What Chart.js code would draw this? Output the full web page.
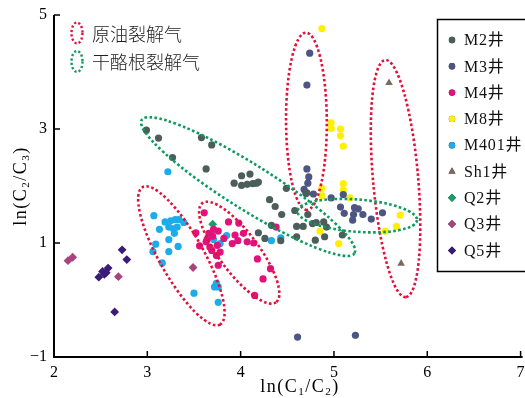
<!DOCTYPE html>
<html>
<head>
<meta charset="utf-8">
<script src="https://cdn.jsdelivr.net/npm/chart.js@4.4.0/dist/chart.umd.min.js"></script>
<style>
  html, body { margin: 0; padding: 0; background: #fff; }
  #wrap { width: 525px; height: 398px; }
</style>
</head>
<body>
<div id="wrap"><canvas id="chart"></canvas></div>
<script>
// ===== DATA : [ln(C1/C2), ln(C2/C3)] =====
const m2 = [[2.99,2.98],[3.12,2.84],[3.58,2.85],[3.69,2.72],[3.27,2.50],[3.63,2.30],[3.93,2.05],[4.01,2.18],
  [4.10,2.21],[4.01,2.01],[4.07,2.03],[4.13,2.04],[4.17,2.05],[4.19,2.07],[4.49,1.96],[4.31,1.76],[4.37,1.64],
  [4.44,1.50],[4.58,1.57],[4.71,1.88],[4.33,1.31],[4.19,1.18],[4.26,1.08],[4.43,1.04],[4.60,1.29],[4.67,1.29],
  [4.77,1.34],[4.81,1.36],[4.89,1.37],[4.92,1.28],[4.60,1.11],[4.80,1.05],[4.90,1.11],[5.09,1.14],[4.72,1.50]];
const m3 = [[4.74,4.33],[4.71,3.77],[4.71,2.30],[4.73,2.16],[4.72,2.05],[4.68,1.94],[4.78,1.86],[4.70,1.87],
  [4.97,1.79],[5.10,1.85],[5.07,1.63],[5.11,1.52],[5.22,1.62],[5.26,1.60],[5.21,1.50],[5.31,1.50],[5.20,1.40],
  [5.40,1.42],[5.52,1.53],[4.61,-0.65],[5.23,-0.62]];
const m4 = [[3.61,1.53],[3.52,1.18],[3.56,0.95],[3.66,1.17],[3.71,1.24],[3.76,1.21],[3.87,1.37],[3.98,1.35],
  [3.94,1.14],[4.03,1.17],[3.97,1.04],[3.91,0.99],[3.69,0.87],[3.74,0.78],[3.78,0.84],[3.76,0.61],[3.64,1.06],
  [3.82,1.08],[4.07,1.02],[4.14,1.00],[4.18,0.72],[4.32,0.55],[4.24,0.37],[4.15,0.08],[4.38,1.28],[3.75,0.96],
  [3.67,0.93],[3.70,1.12],[3.63,1.02]];
const m8 = [[4.87,4.76],[4.97,3.11],[4.97,3.01],[5.07,3.00],[5.07,2.88],[5.10,2.70],[4.87,1.96],[4.87,1.83],
  [5.10,2.04],[5.10,1.93],[5.17,1.79],[5.71,1.49],[5.67,1.29],[5.55,1.21],[4.85,1.21],[5.05,0.99]];
const m401 = [[3.22,2.25],[3.07,1.48],[3.19,1.37],[3.25,1.39],[3.30,1.41],[3.34,1.41],[3.39,1.36],[3.23,1.28],
  [3.13,1.24],[3.28,1.25],[3.32,1.28],[3.29,1.17],[3.23,1.06],[3.09,0.98],[3.06,0.85],[3.23,0.85],[3.33,0.94],
  [3.16,0.65],[3.50,0.12],[3.71,1.06],[3.78,0.99],[3.85,1.13],[3.72,0.23],[3.76,0.23],[3.74,0.29],[3.76,-0.04],
  [4.33,1.04],[4.43,1.09]];
const sh1 = [[5.59,3.81],[5.72,0.64]];
const q2 = [[3.70,1.33]];
const q3 = [[2.15,0.69],[2.20,0.75],[2.69,0.41],[3.49,0.57]];
const q5 = [[2.73,0.88],[2.78,0.71],[2.48,0.40],[2.52,0.50],[2.58,0.56],[2.54,0.45],[2.56,0.48],[2.65,-0.21]];

const xTicks = [2, 3, 4, 5, 6, 7];
const yTicks = [-1, 1, 3, 5];

// 包络线: 长轴两端点 (数据坐标) + 短轴/长轴 比例
const RED = "#e3103c", GREEN = "#0b9b5c";
const ellipses = [
  { from: [2.95, 1.98], to: [3.78, -0.43], ratio: 0.28, color: RED },
  { from: [3.59, 1.70], to: [4.38, -0.04], ratio: 0.32, color: RED },
  { from: [4.70, 4.69], to: [4.71, 1.58], ratio: 0.23, color: RED },
  { from: [5.55, 4.21], to: [5.77, 0.05], ratio: 0.19, color: RED },
  { from: [2.94, 3.16], to: [5.22, 0.82], ratio: 0.18, color: GREEN },
  { from: [4.61, 1.56], to: [5.89, 1.40], ratio: 0.27, color: GREEN }
];
const envLabels = [["原油裂解气", RED], ["干酪根裂解气", GREEN]];

const toXY = arr => arr.map(p => ({ x: p[0], y: p[1] }));

const series = [
  { label: "M2井",   data: m2,   color: "#4b5e5c", style: "circle" },
  { label: "M3井",   data: m3,   color: "#4c5583", style: "circle" },
  { label: "M4井",   data: m4,   color: "#e2127c", style: "circle" },
  { label: "M8井",   data: m8,   color: "#fff000", style: "circle" },
  { label: "M401井", data: m401, color: "#1badea", style: "circle" },
  { label: "Sh1井",  data: sh1,  color: "#7a6a60", style: "triangle" },
  { label: "Q2井",   data: q2,   color: "#14a06a", style: "rectRot" },
  { label: "Q3井",   data: q3,   color: "#a8437e", style: "rectRot" },
  { label: "Q5井",   data: q5,   color: "#3c1a78", style: "rectRot" }
];

const SERIF = '"Liberation Serif", "Noto Sans CJK SC", serif';

function drawSub(ctx, parts, x, y, size) {
  // parts: [text, isSub]
  let w = 0;
  parts.forEach(p => {
    ctx.font = (p[1] ? size * 0.62 : size) + "px " + SERIF;
    w += ctx.measureText(p[0]).width;
  });
  let cx = x - w / 2;
  parts.forEach(p => {
    ctx.font = (p[1] ? size * 0.62 : size) + "px " + SERIF;
    ctx.fillText(p[0], cx, p[1] ? y + size * 0.28 : y);
    cx += ctx.measureText(p[0]).width;
  });
}

const overlay = {
  id: "overlay",
  afterDatasetsDraw(chart) {
    const { ctx, scales: { x, y } } = chart;
    ellipses.forEach(e => {
      const x1 = x.getPixelForValue(e.from[0]), y1 = y.getPixelForValue(e.from[1]);
      const x2 = x.getPixelForValue(e.to[0]), y2 = y.getPixelForValue(e.to[1]);
      const a = Math.hypot(x2 - x1, y2 - y1) / 2;
      ctx.save();
      ctx.beginPath();
      ctx.ellipse((x1 + x2) / 2, (y1 + y2) / 2, a, a * e.ratio, Math.atan2(y2 - y1, x2 - x1), 0, Math.PI * 2);
      ctx.setLineDash([2.6, 2.4]);
      ctx.lineWidth = 2.6;
      ctx.strokeStyle = e.color;
      ctx.stroke();
      ctx.restore();
    });
  },
  afterDraw(chart) {
    const { ctx, chartArea: a, scales: { x, y } } = chart;
    ctx.save();
    // axes
    ctx.strokeStyle = "#000";
    ctx.lineWidth = 2;
    ctx.beginPath();
    ctx.moveTo(a.left, a.top);
    ctx.lineTo(a.left, a.bottom);
    ctx.lineTo(a.right + 2, a.bottom);
    ctx.stroke();
    ctx.lineWidth = 1.5;
    ctx.fillStyle = "#000";
    ctx.font = "16px " + SERIF;
    ctx.textBaseline = "middle";
    ctx.textAlign = "right";
    yTicks.forEach(v => {
      const py = y.getPixelForValue(v);
      ctx.beginPath(); ctx.moveTo(a.left, py); ctx.lineTo(a.left + 6, py); ctx.stroke();
      ctx.fillText(v < 0 ? "−" + Math.abs(v) : String(v), a.left - 7, py);
    });
    ctx.textAlign = "center";
    xTicks.forEach(v => {
      const px = x.getPixelForValue(v);
      ctx.beginPath(); ctx.moveTo(px, a.bottom); ctx.lineTo(px, a.bottom - 6); ctx.stroke();
      ctx.fillText(String(v), px, a.bottom + 16);
    });
    // axis titles
    ctx.textAlign = "left";
    ctx.letterSpacing = "1.5px";
    drawSub(ctx, [["ln(C", false], ["1", true], ["/C", false], ["2", true], [")", false]], 300, 387, 18);
    ctx.save();
    ctx.translate(21, (a.top + a.bottom) / 2);
    ctx.rotate(-Math.PI / 2);
    drawSub(ctx, [["ln(C", false], ["2", true], ["/C", false], ["3", true], [")", false]], 0, 0, 18);
    ctx.restore();
    ctx.letterSpacing = "0px";

    // envelope legend (top-left)
    ctx.font = '300 18px "Noto Sans CJK SC"';
    envLabels.forEach((e, i) => {
      const cy = 33 + i * 28.5;
      ctx.beginPath();
      ctx.ellipse(77, cy, 5.5, 10.5, 0, 0, Math.PI * 2);
      ctx.setLineDash([2.2, 2.2]);
      ctx.lineWidth = 2.4;
      ctx.strokeStyle = e[1];
      ctx.stroke();
      ctx.setLineDash([]);
      ctx.fillStyle = "#222";
      ctx.fillText(e[0], 92, cy + 1);
    });

    // well legend (right)
    ctx.strokeStyle = "#000";
    ctx.lineWidth = 1.5;
    ctx.strokeRect(437.5, 19.5, 100, 252);
    ctx.font = "16px " + SERIF;
    ctx.letterSpacing = "0.8px";
    series.forEach((s, i) => {
      const cy = 40 + i * 26.3;
      Chart.helpers.drawPoint(ctx, { pointStyle: s.style, radius: s.style === "circle" ? 3.2 : 4, rotation: 0, borderWidth: 0 }, 452, cy);
      ctx.fillStyle = s.color;
      ctx.fill();
      ctx.fillStyle = "#111";
      ctx.fillText(s.label, 464, cy + 1);
    });
    ctx.restore();
  }
};

new Chart(document.getElementById("chart"), {
  type: "scatter",
  data: {
    datasets: series.map(s => ({
      label: s.label,
      data: toXY(s.data),
      pointStyle: s.style,
      pointRadius: s.style === "circle" ? 3.6 : 4.4,
      pointBackgroundColor: s.color,
      pointBorderWidth: 0,
      pointBorderColor: s.color
    }))
  },
  options: {
    responsive: true,
    maintainAspectRatio: false,
    animation: false,
    events: [],
    layout: { padding: { left: 0, top: 15, right: 1, bottom: 0 } },
    plugins: { legend: { display: false }, tooltip: { enabled: false } },
    scales: {
      x: {
        type: "linear", min: 2, max: 7,
        grid: { display: false }, border: { display: false },
        ticks: { display: false },
        afterFit: s => { s.height = 41; }
      },
      y: {
        type: "linear", min: -1, max: 5,
        grid: { display: false }, border: { display: false },
        ticks: { display: false },
        afterFit: s => { s.width = 54; }
      }
    }
  },
  plugins: [overlay]
});
</script>
</body>
</html>
